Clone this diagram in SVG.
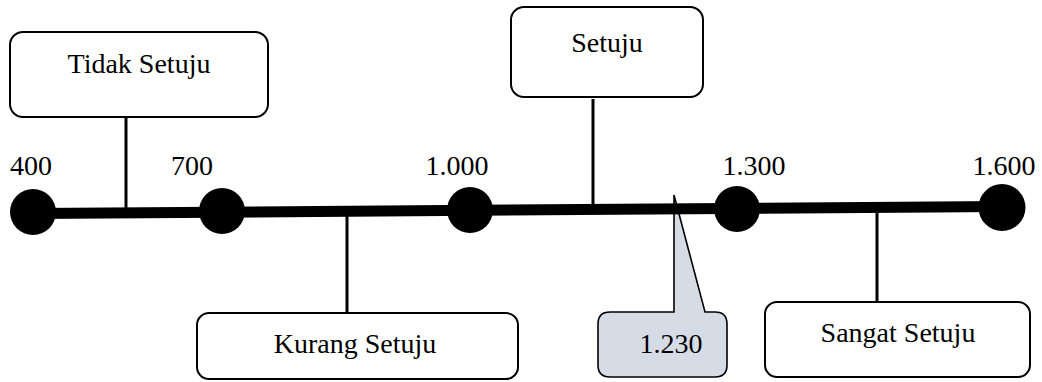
<svg xmlns="http://www.w3.org/2000/svg" width="1042" height="382" viewBox="0 0 1042 382">
<style>
text{font-family:"Liberation Serif","Times New Roman",serif;font-size:28px;fill:#000;text-anchor:middle}
.box{fill:#fff;stroke:#000;stroke-width:2}
.call{fill:#d6dce5;stroke:#000;stroke-width:1.6}
.conn{stroke:#000;stroke-width:3;fill:none}
.dot{fill:#000}
</style>
<rect width="1042" height="382" fill="#fff"/>
<g id="connectors">
<line class="conn" x1="126" y1="117" x2="126" y2="212"/>
<line class="conn" x1="593" y1="99" x2="593" y2="208"/>
<line class="conn" x1="347" y1="211" x2="347" y2="313"/>
<line class="conn" x1="877" y1="207" x2="877" y2="302"/>
</g>
<g id="callout-1230">
<path class="call" d="M610,312 H674 L674,195 L705,312 H715 Q727,312 727,324 V365 Q727,377 715,377 H610 Q598,377 598,365 V324 Q598,312 610,312 Z"/>
<text x="671" y="353">1.230</text>
</g>
<g id="axis">
<line x1="33" y1="213.5" x2="1002" y2="206.5" stroke="#000" stroke-width="11"/>
<circle class="dot" cx="33" cy="212" r="23"/>
<circle class="dot" cx="222" cy="211" r="23"/>
<circle class="dot" cx="470" cy="210" r="23"/>
<circle class="dot" cx="737" cy="209" r="23"/>
<circle class="dot" cx="1002" cy="207.5" r="23.5"/>
<text x="31" y="175">400</text>
<text x="192" y="175">700</text>
<text x="457" y="175">1.000</text>
<text x="754" y="175">1.300</text>
<text x="1004" y="175">1.600</text>
</g>
<g id="node-tidak-setuju">
<rect class="box" x="10" y="32" width="258" height="85" rx="13"/>
<text x="139" y="73">Tidak Setuju</text>
</g>
<g id="node-setuju">
<rect class="box" x="511" y="7" width="192" height="90" rx="13"/>
<text x="607" y="52">Setuju</text>
</g>
<g id="node-kurang-setuju">
<rect class="box" x="197" y="313" width="321" height="66" rx="12"/>
<text x="355" y="353">Kurang Setuju</text>
</g>
<g id="node-sangat-setuju">
<rect class="box" x="765" y="302" width="265" height="75" rx="12"/>
<text x="898" y="342">Sangat Setuju</text>
</g>
</svg>
